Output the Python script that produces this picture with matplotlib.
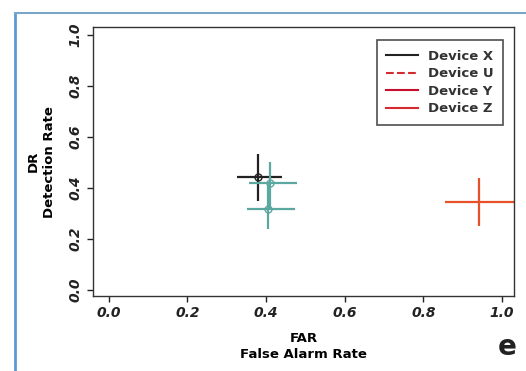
import matplotlib.pyplot as plt
from matplotlib.lines import Line2D

# devices: center (FAR, DR) with error ranges
names = ["Device X", "Device U", "Device Y", "Device Z"]
far = [0.379, 0.410, 0.405, 0.941]
far_lo = [0.326, 0.356, 0.351, 0.855]
far_hi = [0.440, 0.478, 0.473, 1.033]
dr = [0.443, 0.420, 0.318, 0.345]
dr_lo = [0.349, 0.314, 0.239, 0.251]
dr_hi = [0.533, 0.502, 0.420, 0.439]
colors = ["#222222", "#5aa8a0", "#5aa8a0", "#e8502a"]
markers = ["o", "o", "o", "None"]

legend_colors = ["#222222", "#d42a30", "#c8102e", "#d42a30"]
legend_styles = ["-", "--", "-", "-"]

xticks = [0.0, 0.2, 0.4, 0.6, 0.8, 1.0]
yticks = [0.0, 0.2, 0.4, 0.6, 0.8, 1.0]

fig = plt.figure(figsize=(5.26, 3.71), dpi=100)
ax = fig.add_axes([0.177, 0.202, 0.800, 0.725])

for i in range(len(far)):
    xe = [[far[i] - far_lo[i]], [far_hi[i] - far[i]]]
    ye = [[dr[i] - dr_lo[i]], [dr_hi[i] - dr[i]]]
    ax.errorbar([far[i]], [dr[i]], xerr=xe, yerr=ye, fmt=markers[i], color=colors[i],
                mfc="none", ms=5, elinewidth=1.6, capsize=0, mew=1.0, clip_on=True)

ax.set_xlim(-0.04, 1.03)
ax.set_ylim(-0.025, 1.03)
ax.set_xticks(xticks)
ax.set_yticks(yticks)
ax.set_xticklabels(["%.1f" % t for t in xticks], fontsize=10, fontweight="bold", style="italic")
ax.set_yticklabels(["%.1f" % t for t in yticks], fontsize=10, fontweight="bold", style="italic",
                   rotation=90, va="center")
ax.tick_params(direction="out", length=4, width=1, colors="#222222")
for s in ax.spines.values():
    s.set_linewidth(1.0)
    s.set_color("#333333")

ax.set_xlabel("FAR\nFalse Alarm Rate", fontsize=9.5, fontweight="bold", linespacing=1.3, labelpad=8)
ax.set_ylabel("DR\nDetection Rate", fontsize=9.5, fontweight="bold", linespacing=1.3, labelpad=9)

handles = [Line2D([0], [0], color=legend_colors[i], ls=legend_styles[i], lw=1.5) for i in range(4)]
leg = ax.legend(handles, names, loc="upper right", fontsize=9.5, frameon=True, fancybox=False,
                edgecolor="#222222", handlelength=2.4, borderpad=0.7, labelspacing=0.35,
                bbox_to_anchor=(0.99, 0.975))
for t in leg.get_texts():
    t.set_fontweight("bold")
    t.set_color("#333333")
leg.get_frame().set_linewidth(1.2)

fig.text(0.965, 0.065, "e", fontsize=20, fontweight="bold", ha="center", va="center", color="#222222")

# scan frame lines
fig.add_artist(Line2D([0.028, 0.028], [0.0, 0.965], color="#5b9bd5", lw=2.0))
fig.add_artist(Line2D([0.028, 1.0], [0.965, 0.965], color="#7aa6c8", lw=1.5))

fig.savefig("out.png", dpi=100)
